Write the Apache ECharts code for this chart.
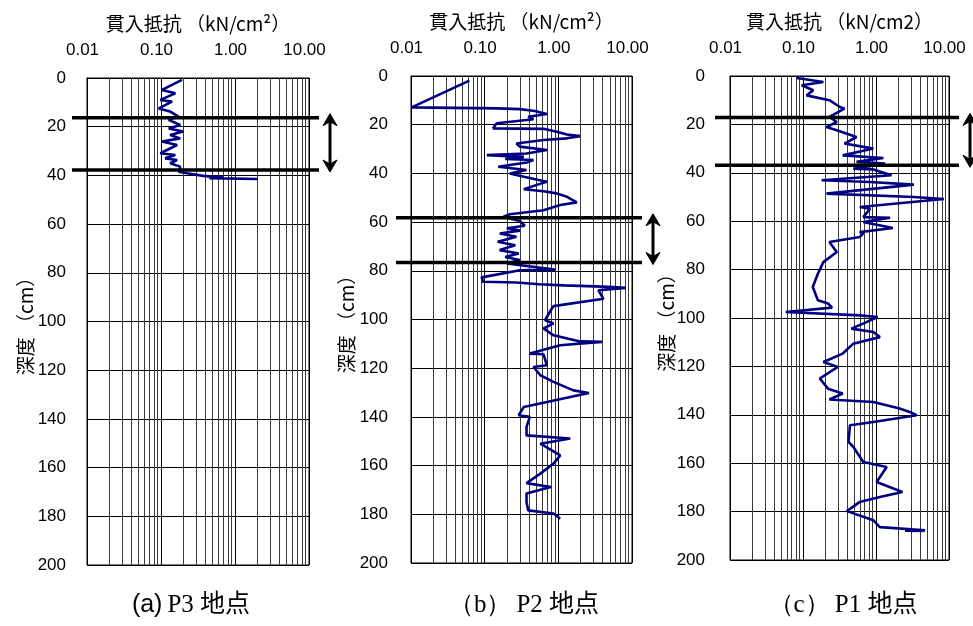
<!DOCTYPE html>
<html><head><meta charset="utf-8">
<script src="https://cdn.jsdelivr.net/npm/echarts@6/dist/echarts.min.js"></script>
<style>html,body{margin:0;padding:0;background:#fff}#c{width:973px;height:626px}</style>
</head><body><div id="c"></div>
<script>
// ---- tick labels & names ----
const xTickLabels = ['0.01', '0.10', '1.00', '10.00'];
const axisTitles = ['貫入抵抗 （kN/cm²）', '貫入抵抗 （kN/cm²）', '貫入抵抗 （kN/cm2）'];
const depthName = '深度 （cm）';
const captionTags = ['(a)', '（b）', '（c）'];
const captionSites = ['P3 地点', 'P2 地点', 'P1 地点'];
const minorGridValues = [0.02,0.03,0.04,0.05,0.06,0.07,0.08,0.09,0.2,0.3,0.4,0.5,0.6,0.7,0.8,0.9,2,3,4,5,6,7,8,9];

// ---- P3 (a) ----
const p3Resist = [0.192,0.103,0.156,0.098,0.141,0.093,0.133,0.173,0.127,0.182,0.127,0.20,0.133,0.182,0.103,0.165,0.098,0.156,0.114,0.165,0.133,0.182,0.173,0.224,0.37,0.70,0.45,2.0];
const p3Depth  = [0.8,4.9,6.3,9.0,9.7,12.5,13.8,15.9,17.2,19.3,20.7,22.0,23.4,24.8,26.1,27.5,30.9,31.6,33.0,33.7,35.0,36.4,38.5,39.1,40.2,40.9,41.1,41.5];
const p3Bounds = [16.3, 37.8];

// ---- P2 (b) ----
const p2Resist = [0.062,0.0102,0.146,0.30,0.48,0.70,0.39,0.46,0.37,0.146,0.13,0.63,0.95,1.31,1.97,1.31,0.63,0.27,0.30,0.70,0.37,0.107,0.34,0.19,0.46,0.37,0.153,0.37,0.22,0.34,0.54,0.70,0.59,0.34,0.63,0.95,1.31,1.78,1.06,0.63,0.22,0.18,
  0.30,0.35,0.20,0.30,0.16,0.27,0.15,0.26,0.16,0.29,0.19,0.30,0.20,0.90,0.30,0.091,0.095,0.27,0.55,1.2,4.0,8.3,3.5,4.1,
  0.86,0.79,0.66,0.86,0.63,0.86,1.97,3.9,1.06,0.41,0.63,0.70,0.46,0.57,0.86,1.6,2.6,1.45,0.70,0.34,0.29,0.41,0.37,0.37,1.45,0.57,1.06,0.86,0.57,0.37,0.79,0.37,0.37,0.39,0.86,1.06];
const p2Depth  = [1.9,12.9,13.3,13.6,14.4,15.6,16.7,17.7,18.1,19.4,21.5,21.7,22.9,24.0,24.7,25.6,26.3,27.7,29.0,30.4,31.8,32.5,33.2,34.1,34.5,35.5,37.3,38.6,40.0,41.4,42.7,43.4,44.1,46.5,47.3,48.2,49.6,51.9,53.0,55.1,56.8,57.8,
  59.5,61.5,62.5,63.5,64.7,66.0,68.1,69.5,71.5,72.9,74.3,75.6,77.0,79.5,79.8,82.7,84.5,84.8,85.5,86.0,86.5,87.0,88.0,91.5,
  94.5,96.2,100.3,101.6,103.7,106.5,109.0,109.2,110.6,114.0,114.3,118.8,119.5,122.9,125.6,129.1,130.2,131.8,133.9,135.9,139.3,140.0,144.1,147.6,148.9,151.0,155.8,159.2,163.3,167.2,168.8,171.5,175.0,178.4,179.7,181.8];
const p2Bounds = [58.2, 76.6];

// ---- P1 (c) ----
const p1Resist = [0.082,0.19,0.096,0.138,0.112,0.23,0.32,0.37,0.23,0.29,0.21,0.29,0.54,0.37,0.92,0.35,1.26,0.54,1.33,0.49,0.92,1.63,0.18,0.83,3.3,0.21,3.3,8.5,0.60,0.83,0.67,1.56,0.67,1.7,0.60,0.67,0.60,0.23,0.29,0.19,0.16,0.136,0.16,0.22,0.25,0.058,0.60,1.05,0.74,0.46,0.92,1.13,0.49,0.35,0.19,0.30,0.17,0.22,0.35,0.23,0.92,2.1,2.9,3.6,0.92,0.44,0.42,0.49,0.67,1.4,1.02,2.3,1.13,0.60,0.40,0.92,1.13,4.7,2.5,4.7];
const p1Depth  = [0.8,2.5,3.8,5.9,8.0,10.0,12.8,13.5,16.9,19.0,21.1,22.4,25.2,27.9,30.0,32.8,33.9,35.5,36.2,38.3,38.6,41.0,43.1,43.8,44.9,48.6,50.0,50.8,54.1,54.8,58.3,58.6,60.3,62.8,64.5,65.1,66.5,68.6,72.7,76.9,81.7,87.2,92.7,94.0,95.7,97.5,98.9,99.6,101.7,104.4,105.8,107.9,110.6,114.7,118.2,120.2,125.0,129.2,131.2,133.7,134.7,137.4,138.8,140.2,143.0,144.3,151.2,153.3,159.5,161.6,167.8,171.9,174.0,176.0,179.8,183.6,186.4,187.7,187.9,188.0];
const p1Bounds = [17.1, 36.9];

const panels = [
  {resist: p3Resist, depth: p3Depth, bounds: p3Bounds},
  {resist: p2Resist, depth: p2Depth, bounds: p2Bounds},
  {resist: p1Resist, depth: p1Depth, bounds: p1Bounds}
];

// ---- layout / style ----
const gridPos = [
  {left: 87, top: 78, width: 222, height: 487},
  {left: 411, top: 76, width: 221, height: 487},
  {left: 730, top: 76, width: 219, height: 484}
];
const yNameGap = [52, 55, 54];
const yLabelMargin = [21, 23, 25];
const captionCenters = [186, 519, 838];
const LAT = 'Liberation Sans, Arial, sans-serif';
const CJK = 'Noto Sans CJK JP, sans-serif';

const chart = echarts.init(document.getElementById('c'), null, {renderer: 'canvas'});

const option = {
  animation: false,
  backgroundColor: '#fff',
  grid: gridPos.map(g => Object.assign({show: true, borderColor: '#000', borderWidth: 1, backgroundColor: 'transparent'}, g)),
  xAxis: gridPos.map((g, i) => ({
    type: 'log', logBase: 10, min: 0.01, max: 10, gridIndex: i, position: 'top',
    name: axisTitles[i], nameLocation: 'middle', nameGap: 45, nameMoveOverlap: false,
    nameTextStyle: {fontFamily: CJK, fontSize: 19, color: '#000'},
    axisLine: {show: true, lineStyle: {color: '#000', width: 1}},
    axisTick: {show: false},
    axisLabel: {
      formatter: v => xTickLabels[Math.round(Math.log10(v)) + 2],
      fontFamily: LAT, fontSize: 17, color: '#000', margin: 19,
      padding: [0, 9, 0, 0]
    },
    splitLine: {show: true, lineStyle: {color: '#000', width: 1}}
  })),
  yAxis: gridPos.map((g, i) => ({
    type: 'value', inverse: true, min: 0, max: 200, interval: 20, gridIndex: i,
    name: depthName, nameLocation: 'middle', nameRotate: 90, nameGap: yNameGap[i], nameMoveOverlap: false,
    nameTextStyle: {fontFamily: CJK, fontSize: 19, color: '#000'},
    axisLine: {show: true, lineStyle: {color: '#000', width: 1}},
    axisTick: {show: false},
    axisLabel: {fontFamily: LAT, fontSize: 17, color: '#000', margin: yLabelMargin[i]},
    splitLine: {show: true, lineStyle: {color: '#000', width: 1}}
  })),
  title: captionCenters.map((cx, i) => ({
    text: '{t|' + captionTags[i] + '} {s|' + captionSites[i] + '}',
    left: cx, textAlign: 'center', top: 588,
    textStyle: {
      fontWeight: 'normal',
      rich: {
        t: {fontFamily: i === 0 ? LAT : 'Liberation Serif, serif', fontSize: 25, fontWeight: 'normal', color: '#000'},
        s: {fontFamily: 'Liberation Serif, Noto Sans CJK JP, serif', fontSize: 25, fontWeight: 'normal', color: '#000'}
      }
    }
  })),
  series: []
};

panels.forEach((p, i) => {
  option.series.push({
    type: 'line', xAxisIndex: i, yAxisIndex: i, data: [], z: 1, silent: true,
    markLine: {
      silent: true, symbol: ['none', 'none'], label: {show: false},
      lineStyle: {color: '#3a3a3a', width: 1, type: 'solid'},
      emphasis: {disabled: true},
      data: minorGridValues.map(v => ({xAxis: v}))
    }
  });
  option.series.push({
    type: 'line', xAxisIndex: i, yAxisIndex: i, z: 5,
    data: p.resist.map((r, k) => [r, p.depth[k]]),
    showSymbol: false, symbol: 'none',
    lineStyle: {color: '#000080', width: 2.6},
    clip: false
  });
});

chart.setOption(option);

// boundary lines and arrows from depths via the axes
const graphics = [];
panels.forEach((p, i) => {
  const L = chart.convertToPixel({gridIndex: i}, [0.01, 0])[0];
  const R = chart.convertToPixel({gridIndex: i}, [10, 0])[0];
  const ys = p.bounds.map(d => chart.convertToPixel({gridIndex: i}, [1, d])[1]);
  ys.forEach(y => {
    graphics.push({type: 'line', shape: {x1: L - 15, y1: y, x2: R + 10, y2: y},
      style: {stroke: '#000', lineWidth: 3.5}, z: 100});
  });
  const ax = R + 21;
  const top = ys[0] - 4, bot = ys[1] + 2;
  graphics.push({type: 'line', shape: {x1: ax, y1: top + 6, x2: ax, y2: bot - 6},
    style: {stroke: '#000', lineWidth: 3}, z: 100});
  graphics.push({type: 'polygon', shape: {points: [[ax, top], [ax - 7, top + 12], [ax, top + 8], [ax + 7, top + 12]]},
    style: {fill: '#000', stroke: '#000', lineWidth: 1}, z: 100});
  graphics.push({type: 'polygon', shape: {points: [[ax, bot], [ax - 7, bot - 12], [ax, bot - 8], [ax + 7, bot - 12]]},
    style: {fill: '#000', stroke: '#000', lineWidth: 1}, z: 100});
});
chart.setOption({graphic: graphics});
</script>
</body></html>
